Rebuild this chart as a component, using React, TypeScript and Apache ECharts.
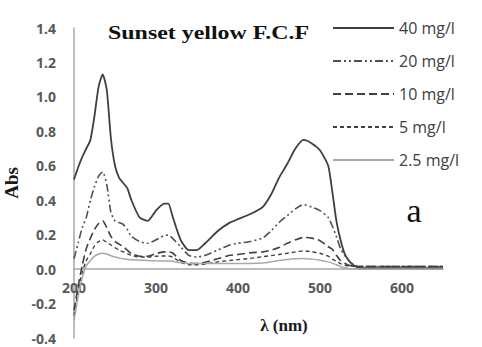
import React, { useEffect, useRef } from "react";
import * as echarts from "echarts";

const wavelengths = [200, 205, 210, 215, 220, 225, 230, 235, 240, 245, 250, 255, 260, 265, 270, 280, 290, 300, 310, 315, 320, 330, 340, 350, 360, 375, 390, 400, 415, 430, 440, 450, 460, 470, 480, 490, 500, 510, 515, 520, 525, 530, 535, 540, 545, 550, 560, 600, 650];

const abs40 = [0.52, 0.59, 0.65, 0.7, 0.75, 0.89, 1.06, 1.13, 1.04, 0.76, 0.6, 0.53, 0.5, 0.47, 0.4, 0.3, 0.28, 0.34, 0.38, 0.38, 0.31, 0.17, 0.11, 0.11, 0.15, 0.22, 0.27, 0.29, 0.32, 0.36, 0.43, 0.53, 0.61, 0.7, 0.75, 0.73, 0.69, 0.6, 0.45, 0.28, 0.17, 0.09, 0.05, 0.025, 0.012, 0.005, 0.005, 0.005, 0.005];
const abs20 = [0.06, 0.15, 0.24, 0.3, 0.4, 0.48, 0.54, 0.565, 0.49, 0.33, 0.28, 0.27, 0.26, 0.23, 0.19, 0.16, 0.15, 0.17, 0.195, 0.198, 0.18, 0.13, 0.08, 0.07, 0.08, 0.11, 0.14, 0.15, 0.16, 0.18, 0.22, 0.27, 0.31, 0.35, 0.375, 0.36, 0.34, 0.3, 0.25, 0.19, 0.12, 0.08, 0.05, 0.03, 0.018, 0.015, 0.015, 0.015, 0.015];
const abs10 = [-0.24, -0.1, 0.02, 0.12, 0.18, 0.23, 0.265, 0.28, 0.24, 0.19, 0.16, 0.145, 0.13, 0.11, 0.09, 0.075, 0.075, 0.09, 0.1, 0.1, 0.095, 0.05, 0.035, 0.033, 0.04, 0.06, 0.08, 0.085, 0.095, 0.1, 0.11, 0.125, 0.15, 0.17, 0.184, 0.18, 0.165, 0.13, 0.115, 0.08, 0.05, 0.035, 0.022, 0.018, 0.016, 0.015, 0.015, 0.015, 0.015];
const abs5 = [-0.27, -0.13, -0.02, 0.05, 0.09, 0.135, 0.16, 0.17, 0.155, 0.14, 0.125, 0.11, 0.1, 0.09, 0.08, 0.07, 0.07, 0.075, 0.076, 0.076, 0.07, 0.04, 0.025, 0.025, 0.03, 0.042, 0.05, 0.055, 0.062, 0.072, 0.078, 0.085, 0.092, 0.1, 0.106, 0.1, 0.092, 0.075, 0.058, 0.045, 0.032, 0.023, 0.018, 0.016, 0.015, 0.015, 0.015, 0.015, 0.015];
const abs25 = [-0.3, -0.16, -0.05, 0.02, 0.05, 0.075, 0.088, 0.092, 0.088, 0.078, 0.07, 0.065, 0.06, 0.057, 0.054, 0.052, 0.05, 0.048, 0.047, 0.047, 0.045, 0.038, 0.033, 0.032, 0.032, 0.033, 0.033, 0.033, 0.033, 0.035, 0.042, 0.05, 0.056, 0.06, 0.062, 0.058, 0.052, 0.042, 0.035, 0.025, 0.015, 0.008, 0.004, 0.002, 0.001, 0, 0, 0, 0];

const seriesNames = ["40 mg/l", "20 mg/l", "10 mg/l", "5 mg/l", "2.5 mg/l"];
const seriesValues = [abs40, abs20, abs10, abs5, abs25];

const titleText = "Sunset yellow F.C.F";
const panelLetter = "a";
const xAxisTitle = "λ (nm)";
const yAxisTitle = "Abs";

const Y_MIN = -0.4;
const Y_MAX = 1.4;
const GRID_TOP = 28;
const GRID_BOTTOM = 9;
const HEIGHT = 347;

export default function App() {
  const ref = useRef<HTMLDivElement>(null);
  useEffect(() => {
    document.body.style.margin = "0";
    if (!ref.current) return;
    const chart = echarts.init(ref.current, null, { renderer: "svg" });
    const styles = [
      { color: "#3f3f3f", width: 1.8, type: "solid" as any },
      { color: "#505050", width: 1.6, type: [8, 3, 2, 3, 2, 3] as any },
      { color: "#404040", width: 1.6, type: [8, 4] as any },
      { color: "#404040", width: 1.4, type: [4, 3] as any },
      { color: "#a8a8a8", width: 1.5, type: "solid" as any },
    ];
    const series = seriesNames.map((name, i) => ({
      name,
      type: "line",
      smooth: 0.2,
      symbol: "none",
      data: wavelengths.map((w, j) => [w, seriesValues[i][j]]),
      lineStyle: styles[i],
      itemStyle: { color: styles[i].color },
    }));
    // place the x axis on the zero line of the y axis
    const plotH = HEIGHT - GRID_TOP - GRID_BOTTOM;
    const zeroOffset = -(plotH * (0 - Y_MIN)) / (Y_MAX - Y_MIN);
    chart.setOption({
      animation: false,
      backgroundColor: "#ffffff",
      grid: {
        left: 74,
        right: 39,
        top: GRID_TOP,
        bottom: GRID_BOTTOM,
        containLabel: false,
        outerBoundsMode: "none",
      },
      legend: {
        orient: "vertical",
        left: 332,
        top: 20,
        padding: 0,
        itemWidth: 61,
        itemHeight: 14,
        itemGap: 17,
        data: seriesNames,
        itemStyle: { opacity: 0 },
        textStyle: { fontFamily: "Open Sans", fontSize: 16, color: "#404040" },
      },
      xAxis: {
        type: "value",
        min: 200,
        max: 650,
        interval: 100,
        position: "bottom",
        offset: zeroOffset,
        axisLine: { onZero: false, lineStyle: { color: "#a6a6a6", width: 1.5 } },
        axisTick: { show: false },
        splitLine: { show: false },
        axisLabel: {
          showMaxLabel: false,
          margin: 11,
          fontFamily: "Open Sans",
          fontSize: 14,
          fontWeight: "bold",
          color: "#595959",
        },
      },
      yAxis: {
        type: "value",
        min: Y_MIN,
        max: Y_MAX,
        interval: 0.2,
        name: yAxisTitle,
        nameLocation: "middle",
        nameRotate: 90,
        nameGap: 51,
        nameTextStyle: { fontFamily: "Liberation Serif", fontSize: 19, fontWeight: "bold", color: "#1a1a1a" },
        axisLine: { show: true, onZero: false, lineStyle: { color: "#a6a6a6", width: 1.5 } },
        axisTick: { show: false },
        splitLine: { show: false },
        axisLabel: {
          margin: 18,
          fontFamily: "Open Sans",
          fontSize: 14,
          fontWeight: "bold",
          color: "#595959",
          formatter: (v: number) => (Math.abs(v) < 1e-9 ? "0.0" : v.toFixed(1)),
        },
      },
      graphic: [
        {
          type: "text",
          x: 108,
          y: 33,
          scaleX: 1.33,
          style: {
            text: titleText,
            fontFamily: "Liberation Serif",
            fontSize: 18,
            fontWeight: "bold",
            fill: "#111111",
            verticalAlign: "middle",
          },
        },
        {
          type: "text",
          x: 414,
          y: 210,
          style: {
            text: panelLetter,
            fontFamily: "Liberation Serif",
            fontSize: 34,
            fill: "#111111",
            align: "center",
            verticalAlign: "middle",
          },
        },
        {
          type: "text",
          x: 284,
          y: 325,
          style: {
            text: xAxisTitle,
            fontFamily: "Liberation Serif",
            fontSize: 17,
            fontWeight: "bold",
            fill: "#1a1a1a",
            align: "center",
            verticalAlign: "middle",
          },
        },
      ],
      series,
    });
    return () => chart.dispose();
  }, []);
  return (
    <div
      ref={ref}
      style={{ position: "fixed", left: 0, top: 0, width: 482, height: 347 }}
    />
  );
}
